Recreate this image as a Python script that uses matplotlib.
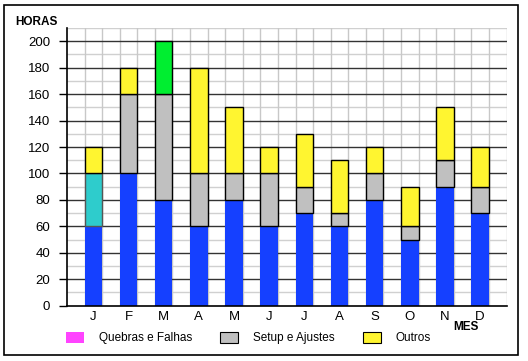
import matplotlib
matplotlib.use("Agg")
import matplotlib.pyplot as plt
import matplotlib.patches as mpatches
import numpy as np

plt.rcParams['font.family'] = ['Liberation Sans', 'DejaVu Sans']

months = ["J", "F", "M", "A", "M", "J", "J", "A", "S", "O", "N", "D"]
producao = [60, 100, 80, 60, 80, 60, 70, 60, 80, 50, 90, 70]
extra_cyan = [40, 0, 0, 0, 0, 0, 0, 0, 0, 0, 0, 0]
setup = [0, 60, 80, 40, 20, 40, 20, 10, 20, 10, 20, 20]
extra_green = [0, 0, 40, 0, 0, 0, 0, 0, 0, 0, 0, 0]
outros = [20, 20, 0, 80, 50, 20, 40, 40, 20, 30, 40, 30]
yticks = list(range(0, 201, 20))
legend_labels = ["Quebras e Falhas", "Setup e Ajustes", "Outros"]

BLUE = "#1540ff"
CYAN = "#2ecccc"
GRAY = "#c0c0c0"
GREEN = "#00ee30"
YELLOW = "#fff530"
MAGENTA = "#ff44ff"

fig = plt.figure(figsize=(5.28, 3.61), dpi=100)
ax = fig.add_axes([0.1269, 0.1532, 0.8324, 0.7692])

x = np.arange(len(months))
w = 0.5
bottom = np.zeros(len(months))
series = [
    (producao, BLUE, "none"),
    (extra_cyan, CYAN, "#555555"),
    (setup, GRAY, "black"),
    (extra_green, GREEN, "black"),
    (outros, YELLOW, "black"),
]
for vals, col, ec in series:
    v = np.array(vals, dtype=float)
    mask = v > 0
    ax.bar(x[mask], v[mask], w, bottom=bottom[mask], color=col,
           edgecolor=ec, linewidth=1.0, zorder=3)
    bottom += v

ax.set_xlim(-0.75, 11.75)
ax.set_ylim(0, 210)

# grid lines
for yv in range(10, 211, 10):
    if yv % 20 == 0 and yv <= 200:
        ax.axhline(yv, color="#333333", lw=1.0, zorder=1)
    else:
        ax.axhline(yv, color="#d0d0d0", lw=1.0, zorder=0.5)
for xv in np.arange(-0.25, 11.76, 0.5):
    ax.axvline(xv, color="#c8c8c8", lw=1.0, zorder=0.5)

ax.set_yticks(yticks)
ax.set_yticklabels([str(t) for t in yticks], fontsize=9.5)
ax.set_xticks(x)
ax.set_xticklabels(months, fontsize=9.5)
ax.tick_params(axis="x", length=0, pad=4)
ax.tick_params(axis="y", length=6, width=1, pad=6)
ax.spines["top"].set_visible(False)
ax.spines["right"].set_visible(False)
ax.spines["left"].set_linewidth(1.2)
ax.spines["bottom"].set_linewidth(1.2)
ax.spines["left"].set_zorder(4)
ax.spines["bottom"].set_zorder(4)

fig.text(15 / 528, 1 - 22 / 361, "HORAS", fontsize=8.5, fontweight="bold",
         va="center", ha="left")
fig.text(466 / 528, 1 - 327 / 361, "MES", fontsize=8.5, fontweight="bold",
         va="center", ha="center")

handles = [mpatches.Patch(facecolor=MAGENTA, edgecolor="none"),
           mpatches.Patch(facecolor=GRAY, edgecolor="black", linewidth=0.8),
           mpatches.Patch(facecolor=YELLOW, edgecolor="black", linewidth=0.8)]
fig.legend(handles, legend_labels, loc="center left",
           bbox_to_anchor=(55 / 528, 1 - 338 / 361), ncol=3, frameon=False,
           fontsize=8.5, handlelength=1.52, handleheight=1.15,
           handletextpad=1.27, columnspacing=2.4)

fig.patches.append(mpatches.Rectangle((4 / 528, 1 - 355 / 361), 514 / 528,
                                      350 / 361, transform=fig.transFigure,
                                      fill=False, edgecolor="black", lw=1.2))

fig.savefig("out.png", dpi=100)
